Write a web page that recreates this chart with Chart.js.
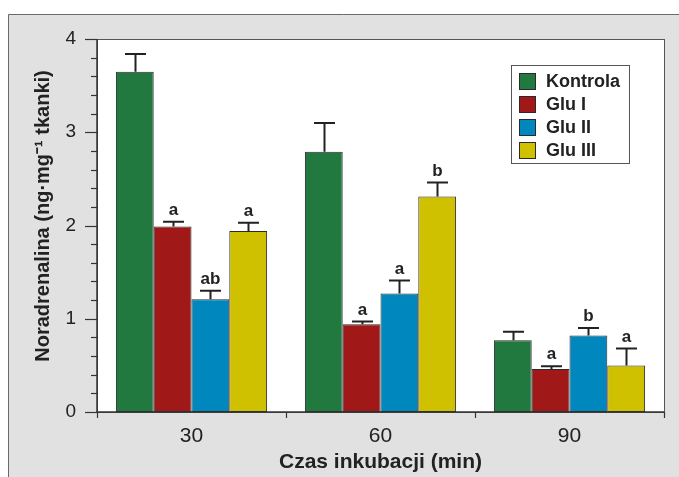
<!DOCTYPE html>
<html>
<head>
<meta charset="utf-8">
<script src="https://cdn.jsdelivr.net/npm/chart.js@4"></script>
<style>
  html, body { margin: 0; padding: 0; background: #fff; }
  #wrap { width: 679px; height: 477px; position: relative; }
</style>
</head>
<body>
<div id="wrap"><canvas id="chart"></canvas></div>
<script>
// Noradrenalina vs czas inkubacji – słupki z błędami i literami istotności

const categories = ["30", "60", "90"];
const seriesNames = ["Kontrola", "Glu I", "Glu II", "Glu III"];

const kontrola = [3.65, 2.79, 0.77];
const gluI = [1.99, 0.94, 0.46];
const gluII = [1.21, 1.27, 0.82];
const gluIII = [1.94, 2.31, 0.50];

const kontrolaErr = [0.19, 0.31, 0.09];
const gluIErr = [0.05, 0.03, 0.03];
const gluIIErr = [0.09, 0.14, 0.08];
const gluIIIErr = [0.09, 0.15, 0.18];

const kontrolaSig = ["", "", ""];
const gluISig = ["a", "a", "a"];
const gluIISig = ["ab", "a", "b"];
const gluIIISig = ["a", "b", "a"];

const yTicks = [0, 1, 2, 3, 4];
const yTitle = "Noradrenalina (ng·mg⁻¹ tkanki)";

const COLORS = ["#22793f", "#a11818", "#0087be", "#d0c100"];
const FONT = "'Liberation Sans', Arial, sans-serif";

const values = [kontrola, gluI, gluII, gluIII];
const errs = [kontrolaErr, gluIErr, gluIIErr, gluIIIErr];
const sigs = [kontrolaSig, gluISig, gluIISig, gluIIISig];

const datasets = seriesNames.map((name, i) => ({
  label: name,
  data: values[i],
  backgroundColor: COLORS[i],
  borderColor: "#2a2a2a",
  borderWidth: 1,
  borderSkipped: false,
  categoryPercentage: 0.8,
  barPercentage: 1.0
}));

const decorPlugin = {
  id: "decor",
  beforeDraw(chart) {
    const { ctx, chartArea: a, width, height } = chart;
    ctx.save();
    ctx.fillStyle = "#ffffff";
    ctx.fillRect(0, 0, width, height);
    // szary panel
    ctx.fillStyle = "#e1e1e1";
    ctx.fillRect(8, 14, width - 8, height - 14);
    ctx.strokeStyle = "#6a6a6a";
    ctx.lineWidth = 1;
    ctx.beginPath();
    ctx.moveTo(8.5, height);
    ctx.lineTo(8.5, 14.5);
    ctx.lineTo(width, 14.5);
    ctx.stroke();
    // białe pole wykresu
    ctx.fillStyle = "#ffffff";
    ctx.fillRect(a.left, a.top, a.right - a.left, a.bottom - a.top);
    ctx.restore();
  },
  afterDatasetsDraw(chart) {
    const { ctx, chartArea: a, scales } = chart;
    const y = scales.y;
    ctx.save();

    // słupki błędów i litery
    values.forEach((vals, i) => {
      const meta = chart.getDatasetMeta(i);
      meta.data.forEach((bar, j) => {
        const top = y.getPixelForValue(vals[j] + errs[i][j]);
        const x = Math.round(bar.x) + 0.5;
        ctx.strokeStyle = "#222";
        ctx.lineWidth = 2;
        ctx.beginPath();
        ctx.moveTo(x, bar.y);
        ctx.lineTo(x, top);
        ctx.moveTo(x - 10.5, top);
        ctx.lineTo(x + 10.5, top);
        ctx.stroke();
        if (sigs[i][j]) {
          ctx.fillStyle = "#222";
          ctx.font = "bold 17px " + FONT;
          ctx.textAlign = "center";
          ctx.textBaseline = "alphabetic";
          ctx.fillText(sigs[i][j], x, top - 7);
        }
      });
    });

    // ramka pola
    ctx.strokeStyle = "#555";
    ctx.lineWidth = 1;
    ctx.strokeRect(a.left + 0.5, a.top + 0.5, a.right - a.left, a.bottom - a.top);
    ctx.strokeStyle = "#333";
    ctx.lineWidth = 1.5;
    ctx.beginPath();
    ctx.moveTo(a.left, a.top);
    ctx.lineTo(a.left, a.bottom);
    ctx.lineTo(a.right, a.bottom);
    ctx.stroke();

    // podziałki osi Y (główne i pomocnicze)
    ctx.lineWidth = 1.2;
    for (let k = 0; k <= 20; k++) {
      const v = k * 0.2;
      const py = Math.round(y.getPixelForValue(v)) + 0.5;
      const len = k % 5 === 0 ? 12 : 6;
      ctx.beginPath();
      ctx.moveTo(a.left - len, py);
      ctx.lineTo(a.left, py);
      ctx.stroke();
    }
    // podziałki osi X na granicach kategorii
    const n = categories.length;
    for (let k = 0; k <= n; k++) {
      const px = Math.round(a.left + (a.right - a.left) * k / n) + 0.5;
      ctx.beginPath();
      ctx.moveTo(px, a.bottom);
      ctx.lineTo(px, a.bottom + 6);
      ctx.stroke();
    }

    // tytuł osi Y
    ctx.save();
    ctx.translate(43, 216);
    ctx.rotate(-Math.PI / 2);
    ctx.fillStyle = "#222";
    ctx.font = "bold 20px " + FONT;
    ctx.textAlign = "center";
    ctx.textBaseline = "middle";
    ctx.fillText(yTitle, 0, 0);
    ctx.restore();

    // legenda
    const lx = 511, ly = 65, lw = 118, lh = 98;
    ctx.fillStyle = "#fff";
    ctx.fillRect(lx, ly, lw, lh);
    ctx.strokeStyle = "#555";
    ctx.lineWidth = 1;
    ctx.strokeRect(lx + 0.5, ly + 0.5, lw, lh);
    ctx.font = "bold 18px " + FONT;
    ctx.textAlign = "left";
    ctx.textBaseline = "middle";
    seriesNames.forEach((name, i) => {
      const cy = 81 + i * 23;
      ctx.fillStyle = COLORS[i];
      ctx.fillRect(519, cy - 8, 17, 17);
      ctx.strokeStyle = "#2a2a2a";
      ctx.strokeRect(519.5, cy - 7.5, 16, 16);
      ctx.fillStyle = "#222";
      ctx.fillText(name, 546, cy + 1);
    });

    ctx.restore();
  }
};

new Chart(document.getElementById("chart"), {
  type: "bar",
  data: { labels: categories, datasets },
  options: {
    responsive: true,
    maintainAspectRatio: false,
    animation: false,
    layout: { padding: { left: 0, right: 15, top: 39, bottom: 0 } },
    plugins: { legend: { display: false }, tooltip: { enabled: false } },
    scales: {
      x: {
        grid: { display: false, drawTicks: false },
        border: { display: false },
        ticks: { color: "#222", font: { family: FONT, size: 21 }, padding: 12 },
        title: {
          display: true,
          text: "Czas inkubacji (min)",
          color: "#222",
          font: { family: FONT, size: 21, weight: "bold" },
          padding: { top: 0, bottom: 2 }
        },
        afterFit(scale) { scale.height = 65; }
      },
      y: {
        min: 0,
        max: 4,
        afterBuildTicks(scale) { scale.ticks = yTicks.map(v => ({ value: v })); },
        grid: { display: false, drawTicks: false },
        border: { display: false },
        ticks: { color: "#222", font: { family: FONT, size: 19 }, padding: 21 },
        title: { display: false },
        afterFit(scale) { scale.width = 97; }
      }
    }
  },
  plugins: [decorPlugin]
});
</script>
</body>
</html>
